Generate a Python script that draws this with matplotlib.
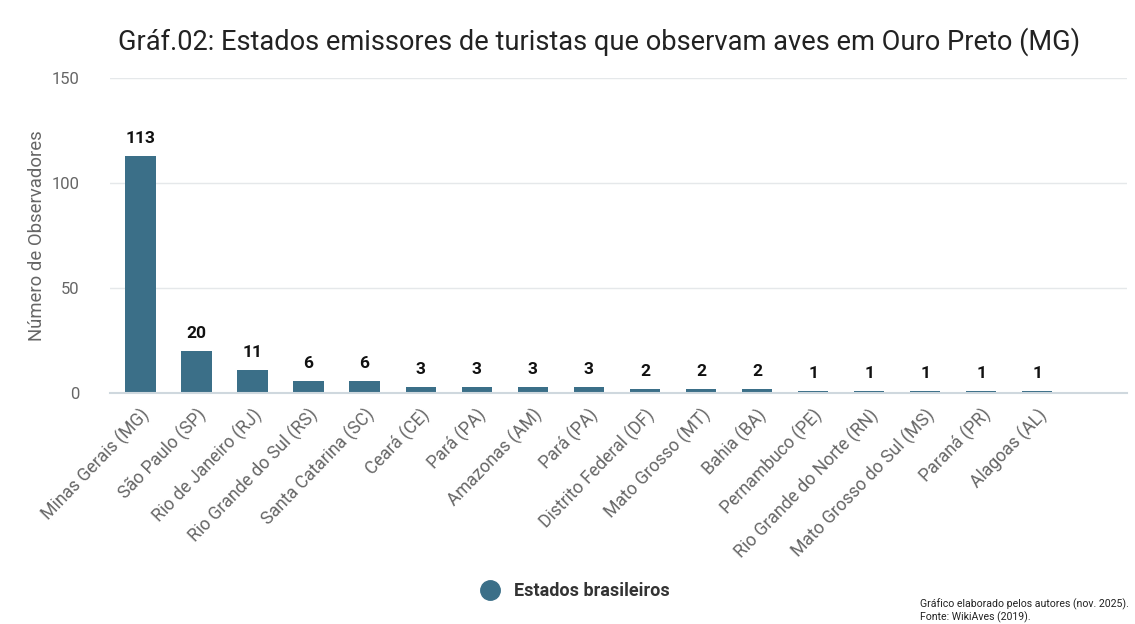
import matplotlib.pyplot as plt
from matplotlib.lines import Line2D

plt.rcParams['font.family'] = ['Roboto', 'DejaVu Sans']

estados = ["Minas Gerais (MG)", "São Paulo (SP)", "Rio de Janeiro (RJ)",
           "Rio Grande do Sul (RS)", "Santa Catarina (SC)", "Ceará (CE)",
           "Pará (PA)", "Amazonas (AM)", "Pará (PA)", "Distrito Federal (DF)",
           "Mato Grosso (MT)", "Bahia (BA)", "Pernambuco (PE)",
           "Rio Grande do Norte (RN)", "Mato Grosso do Sul (MS)",
           "Paraná (PR)", "Alagoas (AL)"]
observadores = [113, 20, 11, 6, 6, 3, 3, 3, 3, 2, 2, 2, 1, 1, 1, 1, 1]
yticks = [0, 50, 100, 150]

bar_color = "#3b6f88"

fig = plt.figure(figsize=(11.35, 6.24), dpi=100)
ax = fig.add_axes([0.097, 0.370, 0.896, 0.505])

x = range(len(estados))
bars = ax.bar(x, observadores, width=0.54, color=bar_color, zorder=3)

for xi, v in zip(x, observadores):
    ax.annotate(str(v), (xi, v), xytext=(0, 7), textcoords="offset points",
                ha="center", va="bottom", fontsize=12.5, fontweight="bold",
                color="#111111")

ax.set_ylim(0, 150)
ax.set_xlim(-0.54, 17.6)
ax.set_yticks(yticks)
ax.set_xticks(list(x))
ax.set_xticklabels(estados, rotation=46, ha="right", rotation_mode="anchor",
                   fontsize=12.7, color="#666666")
ax.tick_params(axis="x", length=0, pad=9)
ax.tick_params(axis="y", length=0, pad=22, labelsize=12, labelcolor="#666666")
ax.grid(axis="y", color="#e5e8ea", linewidth=1, zorder=0)
for s in ["top", "right", "left"]:
    ax.spines[s].set_visible(False)
ax.spines["bottom"].set_color("#cfd8de")
ax.spines["bottom"].set_linewidth(1.5)
ax.spines["bottom"].set_zorder(4)

ax.set_ylabel("Número de Observadores", fontsize=13.3, color="#666666",
              labelpad=4)

fig.text(0.528, 0.934, "Gráf.02: Estados emissores de turistas que observam aves em Ouro Preto (MG)",
         ha="center", va="center", fontsize=19.6, color="#222222")

handle = Line2D([], [], marker="o", linestyle="", markersize=14,
                color=bar_color)
fig.legend([handle], ["Estados brasileiros"], loc="center",
           bbox_to_anchor=(0.503, 0.053), frameon=False,
           prop={"size": 13, "weight": "bold"}, labelcolor="#333333",
           handletextpad=0.3)

fig.text(0.811, 0.032, "Gráfico elaborado pelos autores (nov. 2025).",
         fontsize=7.6, color="#222222", va="center")
fig.text(0.811, 0.011, "Fonte: WikiAves (2019).",
         fontsize=7.6, color="#222222", va="center")

fig.savefig("out.png", dpi=100, facecolor="white")
